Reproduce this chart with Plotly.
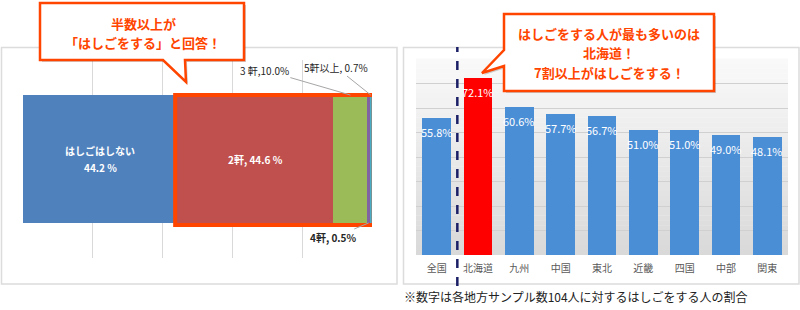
import plotly.graph_objects as go

W, H = 800, 310
FONT = "Noto Sans CJK JP"


def px(x):
    return x / W


def py(y):
    return 1 - y / H


# ---------------- data ----------------
left_categories = ["はしごはしない", "2軒", "3 軒", "4軒", "5軒以上"]
left_values = [44.2, 44.6, 10.0, 0.5, 0.7]
left_colors = ["#4F81BD", "#C0504D", "#9BBB59", "#8064A2", "#4BACC6"]

right_regions = ["全国", "北海道", "九州", "中国", "東北", "近畿", "四国", "中部", "関東"]
right_values = [55.8, 72.1, 60.6, 57.7, 56.7, 51.0, 51.0, 49.0, 48.1]

callout_left = ["半数以上が", "「はしごをする」と回答！"]
callout_right = ["はしごをする人が最も多いのは", "北海道！", "7割以上がはしごをする！"]
footnote = "※数字は各地方サンプル数104人に対するはしごをする人の割合"

fig = go.Figure()

# ---------------- left: 100% stacked horizontal bar ----------------
BAR_W = 0.646
for i, (cat, val, col) in enumerate(zip(left_categories, left_values, left_colors)):
    fig.add_trace(go.Bar(
        x=[val], y=[0], orientation="h", width=BAR_W,
        marker=dict(color=col, line=dict(width=0)),
        textposition="none",
        hoverinfo="skip", showlegend=False,
        xaxis="x", yaxis="y",
    ))

# ---------------- right: regional bars ----------------
idx = list(range(len(right_regions)))
vmax = max(right_values)
bar_colors = ["#FF0000" if v == vmax else "#4A8ED6" for v in right_values]
fig.add_trace(go.Bar(
    x=idx, y=right_values, width=0.7,
    marker=dict(color=bar_colors, line=dict(width=0)),
    hoverinfo="skip", showlegend=False,
    xaxis="x2", yaxis="y2",
))

shapes = []
annotations = []

# gradient background for right plot area (bands)
N = 40
for k in range(N):
    t = k / (N - 1)
    c0 = (217, 217, 217)
    c1 = (249, 249, 249)
    c = tuple(int(round(a + (b - a) * t)) for a, b in zip(c0, c1))
    shapes.append(dict(
        type="rect", xref="x2 domain", yref="y2 domain",
        x0=0, x1=1, y0=k / N, y1=(k + 1) / N + 0.002,
        fillcolor=f"rgb{c}", line=dict(width=0), layer="below",
    ))

# panel borders
shapes.append(dict(type="rect", xref="paper", yref="paper",
                   x0=px(1.5), x1=px(397), y0=py(284), y1=py(47.5),
                   line=dict(color="#DCDCDC", width=1.5), layer="below"))
shapes.append(dict(type="rect", xref="paper", yref="paper",
                   x0=px(403.5), x1=px(799), y0=py(284), y1=py(47.5),
                   line=dict(color="#DCDCDC", width=1.5), layer="below"))

# highlight rectangle around the "する" segments
total = sum(left_values)
shapes.append(dict(
    type="rect", xref="x", yref="paper",
    x0=left_values[0] - 0.6, x1=total + 0.5,
    y0=py(225), y1=py(95),
    line=dict(color="#FF4500", width=4), fillcolor="rgba(0,0,0,0)", layer="above",
))

# dashed separator on right chart
shapes.append(dict(
    type="line", xref="x2", yref="paper",
    x0=0.5, x1=0.5, y0=py(286), y1=py(47),
    line=dict(color="#1B1F66", width=2.5, dash="dash"), layer="above",
))


def callout_path(pts):
    return "M " + " L ".join(f"{px(x):.5f},{py(y):.5f}" for x, y in pts) + " Z"


left_pts = [(40, 3), (244, 3), (244, 60), (185, 60), (186, 82), (163, 60), (40, 60)]
right_pts = [(504, 14), (714, 14), (714, 91), (504, 91), (504, 66), (482, 73), (504, 50)]
for pts in (left_pts, right_pts):
    shadow = [(x + 2, y + 2) for x, y in pts]
    shapes.append(dict(type="path", xref="paper", yref="paper",
                       path=callout_path(shadow), fillcolor="rgba(0,0,0,0.18)",
                       line=dict(width=0), layer="above"))
    shapes.append(dict(type="path", xref="paper", yref="paper",
                       path=callout_path(pts), fillcolor="white",
                       line=dict(color="#FF4500", width=2.5), layer="above"))

for line, yy in zip(callout_left, [24, 43]):
    annotations.append(dict(
        xref="paper", yref="paper", x=px(143), y=py(yy), text=f"<b>{line}</b>",
        showarrow=False, font=dict(color="#FF4500", size=13, family=FONT),
        xanchor="center", yanchor="middle",
    ))
for line, yy in zip(callout_right, [33.5, 53, 72.5]):
    annotations.append(dict(
        xref="paper", yref="paper", x=px(609), y=py(yy), text=f"<b>{line}</b>",
        showarrow=False, font=dict(color="#FF4500", size=13, family=FONT),
        xanchor="center", yanchor="middle",
    ))

# inside labels for the two big segments
cum = []
acc = 0
for v in left_values:
    cum.append(acc + v / 2)
    acc += v
inside = [
    (0, f"<b>{left_categories[0]}</b>", 9),
    (0, f"<b>{left_values[0]} %</b>", -8),
    (1, f"<b>{left_categories[1]}, {left_values[1]} %</b>", 0),
]
for i, txt, ys in inside:
    annotations.append(dict(
        xref="x", yref="y", x=cum[i], y=0, yshift=ys, text=txt,
        showarrow=False, xanchor="center", yanchor="middle",
        font=dict(color="white", size=10, family=FONT),
    ))

# outside labels for small segments
outside = [
    (2, f"{left_categories[2]},{left_values[2]:.1f}%", BAR_W / 2, -86, -25),
    (3, f"<b>{left_categories[3]}, {left_values[3]}%</b>", -BAR_W / 2, -36, 15),
    (4, f"{left_categories[4]}, {left_values[4]}%", BAR_W / 2, -35, -28),
]
for i, txt, yy, ax, ay in outside:
    annotations.append(dict(
        xref="x", yref="y", x=cum[i], y=yy, text=txt,
        showarrow=True, arrowhead=0, arrowwidth=1, arrowcolor="#A6A6A6",
        ax=ax, ay=ay, standoff=0,
        font=dict(color="#262626", size=10, family=FONT),
    ))

# value labels on right bars
for i, v in zip(idx, right_values):
    annotations.append(dict(
        xref="x2", yref="y2", x=i, y=v, text=f"{v:.1f}%",
        showarrow=False, yshift=-14, xanchor="center", yanchor="middle",
        font=dict(color="white", size=11, family=FONT),
    ))

annotations.append(dict(
    xref="paper", yref="paper", x=px(402), y=py(296), text=footnote,
    showarrow=False, xanchor="left", yanchor="middle",
    font=dict(color="#222222", size=12, family=FONT),
))

fig.update_layout(
    width=W, height=H, autosize=False,
    margin=dict(l=0, r=0, t=0, b=0, pad=0),
    paper_bgcolor="white", plot_bgcolor="rgba(0,0,0,0)",
    barmode="stack", bargap=0,
    font=dict(family=FONT),
    showlegend=False,
    xaxis=dict(domain=[px(23), px(372)], range=[0, 100], dtick=20,
               showgrid=True, gridcolor="#D9D9D9", gridwidth=1,
               zeroline=False, showticklabels=False, ticks="", fixedrange=True),
    yaxis=dict(domain=[py(258), py(60)], range=[-0.5, 0.5],
               showgrid=False, zeroline=False, showticklabels=False, ticks=""),
    xaxis2=dict(domain=[px(416), px(788)], range=[-0.5, 8.5],
                tickvals=idx, ticktext=right_regions, showgrid=False,
                zeroline=False, ticks="", anchor="y2", ticklabelstandoff=6,
                tickfont=dict(size=10, color="#595959", family=FONT)),
    yaxis2=dict(domain=[py(255), py(59)], range=[0, 80], dtick=10,
                showgrid=True, gridcolor="#D0D0D0", zeroline=False,
                showticklabels=False, ticks="", anchor="x2"),
    shapes=shapes,
    annotations=annotations,
)

fig.write_html("out.html")
